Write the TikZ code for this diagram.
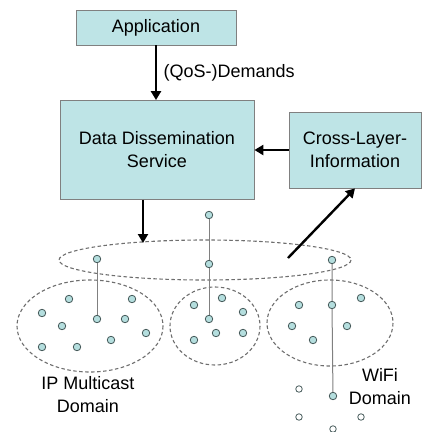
\documentclass[tikz,border=0pt]{standalone}
\usepackage{fontspec}
\setmainfont{Liberation Sans}
\usetikzlibrary{arrows.meta}

\definecolor{boxfill}{RGB}{190,228,230}
\definecolor{dotfill}{RGB}{180,222,222}
\definecolor{dotline}{RGB}{70,90,90}
\definecolor{domline}{RGB}{110,110,110}

\begin{document}
\begin{tikzpicture}[x=1pt, y=-1pt,
    block/.style={rectangle, draw=gray, fill=boxfill, line width=0.8pt,
      align=center, font=\fontsize{18}{23}\selectfont},
    flow/.style={-{Triangle[length=9pt, width=10pt]}, line width=2.4pt},
    zone/.style={draw=domline, line width=1.1pt, dash pattern=on 3.5pt off 2.5pt},
    host/.style={circle, draw=dotline, fill=dotfill, line width=0.8pt,
      inner sep=0pt, minimum size=7.5pt},
    guest/.style={circle, draw=dotline, fill=white, line width=0.8pt,
      inner sep=0pt, minimum size=6.5pt},
    link/.style={draw=gray, line width=1pt},
    lbl/.style={align=center, font=\fontsize{18}{23}\selectfont}]

    \useasboundingbox (0,0) rectangle (428,432);

    % layers
    \node[block,
    minimum width=160pt,
    minimum height=35pt] (app) at (156,27.5) {Application};

    \node[block,
    minimum width=194pt,
    minimum height=99pt] (dds) at (157,150) {Data Dissemination\\Service};

    \node[block,
    minimum width=132pt,
    minimum height=76pt] (cli) at (355,150) {Cross-Layer-\\Information};

    \draw[flow] (app.south) -- (app.south |- dds.north)
      node[midway, right, xshift=3pt, lbl] (qos) {(QoS-)Demands};
    \draw[flow] (cli.west) -- (dds.east);

    % domains
    \draw[zone] (205,260) ellipse [x radius=146, y radius=20];
    \draw[zone] (90,326) ellipse [x radius=73, y radius=46];
    \draw[zone] (215,326) ellipse [x radius=45, y radius=39];
    \draw[zone] (330,323) ellipse [x radius=63, y radius=43];

    \coordinate (down) at (143,243);
    \coordinate (up) at (288,258);
    \draw[flow] (dds.south -| down) -- (down);
    \draw[flow] (up) -- (cli.south);

    % IP multicast domain
    \node[host] (l1) at (97,259) {};
    \node[host] (l2) at (97,319) {};
    \draw[link] (l1) -- (l2);
    \foreach \px/\py [count=\i] in {69/299, 132/299, 42/313, 62/326, 125/319,
        146/333, 42/347, 77/347, 111/340}
      \node[host] (lh\i) at (\px,\py) {};

    % middle domain
    \node[host] (m1) at (209,215) {};
    \node[host] (m2) at (209,264) {};
    \node[host] (m3) at (209,319) {};
    \draw[link] (m1) -- (m2) -- (m3);
    \foreach \px/\py [count=\i] in {194/305, 222/298, 243/312, 216/333,
        243/333, 194/340}
      \node[host] (mh\i) at (\px,\py) {};

    % WiFi domain
    \node[host] (w1) at (332,260) {};
    \node[host] (w2) at (332,305) {};
    \node[host] (w3) at (333,396) {};
    \draw[link] (w1) -- (w2) -- (w3);
    \foreach \px/\py [count=\i] in {299/305, 361/298, 292/326, 347/326, 313/340}
      \node[host] (wh\i) at (\px,\py) {};
    \foreach \px/\py [count=\i] in {299/389, 299/417, 361/417, 333/429}
      \node[guest] (wg\i) at (\px,\py) {};

    \node[lbl] (ipm) at (88,395) {IP Multicast\\Domain};
    \node[lbl] (wifi) at (380,387) {WiFi\\Domain};

\end{tikzpicture}
\end{document}
